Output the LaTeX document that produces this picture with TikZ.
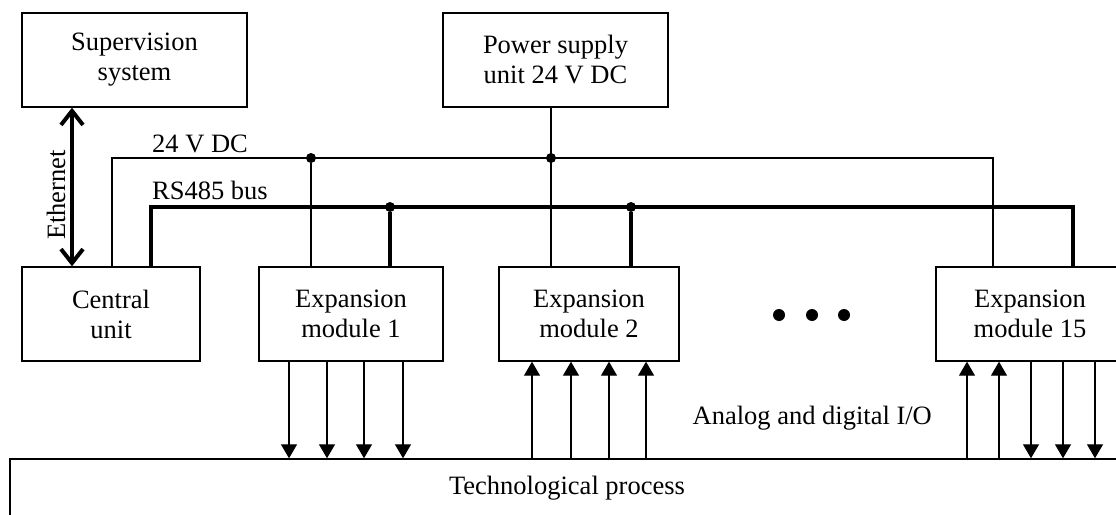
\documentclass[tikz,border=0pt]{standalone}
\usepackage{fontspec}
\setmainfont{Liberation Serif}
\usetikzlibrary{arrows.meta}
\begin{document}
\begin{tikzpicture}[x=1pt,y=-1pt,
  box/.style={draw,line width=1.4pt,align=center,inner sep=0pt,font=\fontsize{26.5}{30}\selectfont},
  lbl/.style={inner sep=0pt,font=\fontsize{26.5}{30}\selectfont},
  thinline/.style={line width=1.3pt},
  bus/.style={line width=4pt},
  io/.style={line width=1.3pt,-{Triangle[width=16pt,length=14pt]}},
  jdot/.style={circle,fill,inner sep=0pt,minimum size=10pt}]
\useasboundingbox (0,0) rectangle (1116,514);
\clip (0,0) rectangle (1116,514);
% boxes
\node[box,minimum width=225pt,minimum height=94pt] (sup) at (134.5,60) {Supervision\\system};
\node[box,minimum width=225pt,minimum height=94pt] (psu) at (555.5,60) {Power supply\\unit 24 V DC};
\node[box,minimum width=178pt,minimum height=94pt] (cu) at (111,314) {Central\\unit};
\node[box,minimum width=184pt,minimum height=94pt] (e1) at (351,314) {Expansion\\module 1};
\node[box,minimum width=180pt,minimum height=94pt] (e2) at (589,314) {Expansion\\module 2};
\node[box,minimum width=188pt,minimum height=94pt] (e15) at (1030,314) {Expansion\\module 15};
\node[box,minimum width=1114pt,minimum height=58pt] (tp) at (567,488) {Technological process};
% coordinates
\coordinate (pl) at (112,158);
\coordinate (pr) at (993,158);
\coordinate (bl) at (151,207);
\coordinate (br) at (1073,207);
\coordinate (eth) at (72,0);
% junctions
\node[jdot] (j1) at (311,158) {};
\node[jdot] (j2) at (551,158) {};
\node[jdot] (j3) at (390,207) {};
\node[jdot] (j4) at (631,207) {};
% RS485 bus
\draw[bus] (cu.north -| bl) -- (bl) -- (br) -- (e15.north -| br);
\draw[bus] (j3) -- (e1.north -| j3);
\draw[bus] (j4) -- (e2.north -| j4);
% 24 V DC
\draw[thinline] (cu.north -| pl) -- (pl) -- (pr) -- (e15.north -| pr);
\draw[thinline] (j1) -- (e1.north -| j1);
\draw[thinline] (psu.south -| j2) -- (e2.north -| j2);
% Ethernet
\draw[line width=4pt,{Straight Barb[width=22pt,length=14pt]}-{Straight Barb[width=22pt,length=14pt]}] (sup.south -| eth) -- (cu.north -| eth);
\node[lbl,rotate=90] (ethl) at (56,195) {Ethernet};
% labels
\node[lbl,anchor=base west] (l24) at (152,152) {24 V DC};
\node[lbl,anchor=base west] (lrs) at (152,199) {RS485 bus};
\node[lbl,anchor=east] (lio) at (932,418) {Analog and digital I/O};
% ellipsis
\fill (779,315) circle (6pt);
\fill (812,315) circle (6pt);
\fill (844,315) circle (6pt);
% I/O arrows
\foreach \d in {-62,-24,13,52} {
  \path ([xshift=\d pt]e1.south) coordinate (t);
  \draw[io] (t) -- (t |- tp.north);
}
\foreach \d in {-57,-18,20,57} {
  \path ([xshift=\d pt]e2.south) coordinate (t);
  \draw[io] (t |- tp.north) -- (t);
}
\foreach \d in {-63,-31} {
  \path ([xshift=\d pt]e15.south) coordinate (t);
  \draw[io] (t |- tp.north) -- (t);
}
\foreach \d in {1,33,65} {
  \path ([xshift=\d pt]e15.south) coordinate (t);
  \draw[io] (t) -- (t |- tp.north);
}
\end{tikzpicture}
\end{document}
